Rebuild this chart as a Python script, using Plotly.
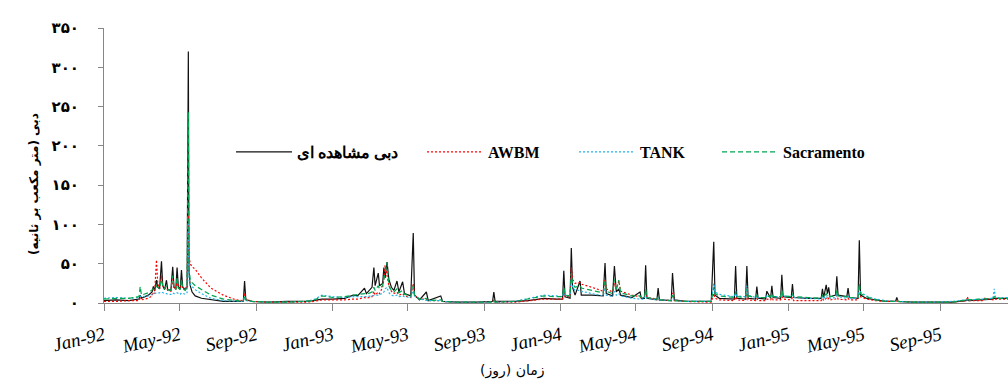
import plotly.graph_objects as go

dates = [
    "1992-01-01", "1992-01-20", "1992-02-10", "1992-02-26", "1992-02-28", "1992-03-01",
    "1992-03-12", "1992-03-18", "1992-03-20", "1992-03-22", "1992-03-25", "1992-03-27",
    "1992-03-30", "1992-04-02", "1992-04-04", "1992-04-07", "1992-04-10", "1992-04-12",
    "1992-04-17", "1992-04-20", "1992-04-22", "1992-04-25", "1992-04-27", "1992-04-29",
    "1992-05-02", "1992-05-04", "1992-05-06", "1992-05-10", "1992-05-13", "1992-05-15",
    "1992-05-16", "1992-05-18", "1992-05-21", "1992-05-26", "1992-06-05", "1992-06-20",
    "1992-07-10", "1992-07-30", "1992-08-11", "1992-08-13", "1992-08-15", "1992-08-25",
    "1992-09-20", "1992-10-20", "1992-11-20", "1992-12-01", "1992-12-15",
    "1993-01-01", "1993-01-20", "1993-02-03", "1993-02-10", "1993-02-21", "1993-02-24",
    "1993-03-05", "1993-03-08", "1993-03-10", "1993-03-15", "1993-03-17", "1993-03-22",
    "1993-03-24", "1993-03-26", "1993-03-29", "1993-04-01", "1993-04-05", "1993-04-09",
    "1993-04-14", "1993-04-17", "1993-04-23", "1993-04-26", "1993-05-06", "1993-05-10",
    "1993-05-12", "1993-05-20", "1993-05-31", "1993-06-03", "1993-06-23", "1993-06-26",
    "1993-07-20", "1993-08-20", "1993-09-14", "1993-09-16", "1993-09-18", "1993-10-20",
    "1993-11-10", "1993-12-05", "1993-12-25",
    "1994-01-04", "1994-01-06", "1994-01-08", "1994-01-16", "1994-01-18", "1994-01-20",
    "1994-01-24", "1994-02-01", "1994-02-03", "1994-02-20", "1994-03-10", "1994-03-13",
    "1994-03-15", "1994-03-25", "1994-03-28", "1994-03-31", "1994-04-04", "1994-04-07",
    "1994-04-25", "1994-05-08", "1994-05-10", "1994-05-15", "1994-05-17", "1994-05-19",
    "1994-06-04", "1994-06-06", "1994-06-08", "1994-06-27", "1994-06-29", "1994-07-02",
    "1994-07-20", "1994-08-30", "1994-09-03", "1994-09-05", "1994-09-12", "1994-10-06",
    "1994-10-08", "1994-10-10", "1994-10-24", "1994-10-26", "1994-10-28", "1994-11-09",
    "1994-11-11", "1994-11-13", "1994-11-25", "1994-11-27", "1994-12-03", "1994-12-05",
    "1994-12-07", "1994-12-19", "1994-12-21", "1994-12-23",
    "1995-01-05", "1995-01-07", "1995-01-09", "1995-02-01", "1995-02-22", "1995-02-24",
    "1995-02-26", "1995-03-02", "1995-03-04", "1995-03-06", "1995-03-08", "1995-03-17",
    "1995-03-19", "1995-03-21", "1995-04-04", "1995-04-06", "1995-04-08", "1995-04-22",
    "1995-04-24", "1995-04-26", "1995-05-05", "1995-05-20", "1995-06-05", "1995-06-21",
    "1995-06-23", "1995-06-25", "1995-07-20", "1995-08-20", "1995-09-20", "1995-10-12",
    "1995-10-14", "1995-10-16", "1995-11-09", "1995-11-11", "1995-11-24", "1995-11-26",
    "1995-11-28", "1995-12-18", "1995-12-31",
]

observed = [
    3, 4, 3, 5, 10, 6,
    10, 14, 21, 15, 29, 20,
    18, 53, 22, 17, 29, 17,
    16, 46, 20, 18, 45, 20,
    18, 42, 20, 17, 20, 320,
    40, 22, 14, 9, 6, 4,
    2, 2, 2, 28, 4, 2,
    1, 2, 2, 3, 5,
    5, 6, 10, 9, 19, 12,
    20, 45, 22, 38, 22, 25,
    45, 32, 52, 30, 20, 16,
    28, 14, 27, 12, 9, 89,
    10, 4, 14, 3, 9, 2,
    1, 1, 2, 14, 2, 2,
    3, 6, 5,
    5, 41, 8, 6, 70, 20,
    10, 28, 10, 10, 9, 51,
    12, 9, 47, 14, 18, 10,
    7, 14, 6, 6, 48, 6,
    4, 19, 4, 3, 38, 4,
    2, 2, 78, 10, 6, 5,
    47, 6, 5, 47, 6, 5,
    21, 6, 5, 15, 6, 22,
    7, 6, 36, 8,
    7, 24, 7, 6, 6, 18,
    7, 23, 12, 20, 8, 10,
    34, 10, 8, 19, 7, 6,
    80, 10, 6, 4, 2, 2,
    7, 2, 1, 1, 1, 3,
    4, 3, 4, 5, 5, 6,
    6, 6, 6,
]

awbm = [
    2, 2, 3, 3, 6, 4,
    6, 9, 14, 12, 55, 25,
    18, 35, 22, 18, 20, 16,
    15, 30, 20, 17, 28, 20,
    17, 25, 20, 18, 22, 115,
    60, 50, 46, 43, 32, 19,
    10, 4, 3, 13, 5, 2,
    1, 1, 1, 2, 4,
    4, 4, 5, 5, 7, 6,
    8, 15, 10, 14, 12, 20,
    30, 48, 35, 22, 15, 12,
    14, 10, 12, 9, 7, 25,
    10, 5, 5, 3, 3, 2,
    1, 1, 1, 4, 1, 1,
    3, 5, 5,
    5, 15, 8, 8, 45, 30,
    25, 26, 24, 20, 15, 30,
    18, 14, 25, 18, 28, 15,
    10, 8, 7, 7, 15, 7,
    5, 7, 4, 3, 13, 3,
    2, 1, 12, 6, 4, 3,
    8, 4, 3, 10, 4, 3,
    6, 3, 3, 5, 4, 7,
    4, 4, 8, 5,
    4, 7, 3, 3, 3, 6,
    3, 6, 4, 6, 4, 5,
    10, 5, 4, 6, 4, 4,
    12, 8, 5, 3, 2, 2,
    3, 2, 1, 1, 1, 3,
    8, 3, 3, 6, 4, 5,
    5, 5, 5,
]

tank = [
    6, 7, 6, 7, 9, 8,
    9, 11, 12, 12, 13, 13,
    13, 14, 13, 12, 12, 11,
    11, 13, 12, 12, 13, 12,
    11, 13, 12, 11, 13, 105,
    30, 24, 21, 17, 12, 6,
    3, 2, 2, 8, 3, 2,
    1, 1, 2, 4, 10,
    8, 7, 8, 8, 8, 8,
    9, 10, 10, 10, 11, 12,
    14, 18, 20, 13, 10, 9,
    10, 8, 9, 8, 7, 18,
    9, 5, 4, 3, 3, 2,
    1, 1, 1, 2, 1, 2,
    6, 10, 9,
    8, 18, 10, 9, 32, 20,
    16, 16, 15, 12, 9, 18,
    10, 8, 15, 10, 12, 9,
    6, 5, 5, 5, 12, 6,
    4, 6, 4, 3, 10, 3,
    2, 2, 25, 14, 11, 8,
    15, 9, 8, 22, 10, 7,
    10, 7, 7, 9, 8, 10,
    8, 8, 12, 9,
    8, 10, 7, 6, 5, 8,
    6, 9, 7, 8, 6, 7,
    12, 8, 6, 8, 6, 6,
    18, 14, 9, 5, 3, 2,
    3, 2, 1, 1, 2, 4,
    4, 4, 5, 5, 6, 18,
    7, 7, 7,
]

sacramento = [
    5, 6, 6, 8, 21, 10,
    13, 16, 18, 17, 22, 20,
    19, 30, 22, 18, 22, 17,
    16, 35, 20, 17, 33, 19,
    17, 30, 18, 16, 20, 243,
    45, 30, 26, 22, 17, 10,
    5, 3, 2, 10, 4, 2,
    1, 1, 2, 3, 9,
    7, 8, 10, 11, 12, 11,
    14, 20, 16, 22, 18, 22,
    30, 35, 51, 22, 16, 14,
    18, 13, 16, 11, 9, 22,
    10, 5, 6, 3, 4, 2,
    1, 1, 1, 3, 1, 2,
    5, 9, 8,
    8, 20, 10, 9, 38, 25,
    20, 22, 19, 16, 13, 28,
    15, 12, 30, 16, 29, 13,
    9, 9, 7, 7, 18, 7,
    5, 8, 4, 3, 10, 3,
    2, 2, 20, 12, 9, 7,
    14, 8, 7, 18, 9, 7,
    10, 7, 7, 9, 8, 12,
    8, 8, 16, 9,
    8, 12, 8, 7, 6, 10,
    7, 12, 9, 11, 8, 9,
    16, 9, 8, 10, 7, 7,
    25, 12, 8, 4, 2, 2,
    4, 2, 1, 1, 1, 4,
    5, 4, 5, 6, 6, 8,
    6, 6, 6,
]

y_tick_vals = [0, 50, 100, 150, 200, 250, 300, 350]
y_tick_text = ["۰", "۵۰", "۱۰۰", "۱۵۰", "۲۰۰", "۲۵۰", "۳۰۰", "۳۵۰"]

series_names = ["دبی مشاهده ای", "AWBM", "TANK", "Sacramento"]

fig = go.Figure()
fig.add_trace(go.Scatter(x=dates, y=observed, mode="lines", name=series_names[0],
                         legend="legend",
                         line=dict(color="#111111", width=1.2)))
fig.add_trace(go.Scatter(x=dates, y=awbm, mode="lines", name=series_names[1],
                         legend="legend2",
                         line=dict(color="#FF0000", width=1.2, dash="2px,2px")))
fig.add_trace(go.Scatter(x=dates, y=tank, mode="lines", name=series_names[2],
                         legend="legend3",
                         line=dict(color="#1EB4E8", width=1.2, dash="2px,2px")))
fig.add_trace(go.Scatter(x=dates, y=sacramento, mode="lines", name=series_names[3],
                         legend="legend4",
                         line=dict(color="#00A650", width=1.2, dash="5px,3px")))

axis_gray = "#868686"
legend_font = dict(family="Liberation Serif, Times New Roman, serif", size=16,
                   color="black", weight="bold")


def legend_box(xpos):
    return dict(orientation="h", x=xpos, xanchor="left", y=0.549, yanchor="middle",
                bgcolor="rgba(0,0,0,0)", font=legend_font, itemwidth=56)


fig.update_layout(
    width=1008, height=390,
    margin=dict(l=104, r=0, t=28, b=87),
    paper_bgcolor="white", plot_bgcolor="white",
    showlegend=True,
    legend=legend_box(0.1405),
    legend2=legend_box(0.3518),
    legend3=legend_box(0.5199),
    legend4=legend_box(0.6781),
    xaxis=dict(type="date", range=["1992-01-01", "1995-12-18"],
               tick0="1992-01-01", dtick="M4", tickformat="%b-%y",
               tickangle=-13, ticks="outside", ticklen=7, tickcolor=axis_gray,
               showline=True, linecolor=axis_gray, linewidth=1,
               showgrid=False, zeroline=False, ticklabelstandoff=6,
               tickfont=dict(family="Liberation Serif", size=19, style="italic", color="black")),
    yaxis=dict(range=[0, 350], tickmode="array", tickvals=y_tick_vals, ticktext=y_tick_text,
               ticks="outside", ticklen=5, tickcolor=axis_gray,
               showline=True, linecolor=axis_gray, linewidth=1,
               showgrid=False, zeroline=False, ticklabelstandoff=16,
               tickfont=dict(family="DejaVu Sans", size=15, color="black", weight="bold")),
    annotations=[
        dict(text="دبی (متر مکعب بر ثانیه)", xref="paper", yref="paper",
             x=-0.0874, y=0.433, showarrow=False, textangle=-90,
             font=dict(family="DejaVu Sans", size=12, color="black", weight="bold")),
        dict(text="زمان (روز)", xref="paper", yref="paper",
             x=0.451, y=-0.283, showarrow=False,
             font=dict(family="DejaVu Sans", size=14, color="black")),
    ],
)

fig.write_html("out.html")
